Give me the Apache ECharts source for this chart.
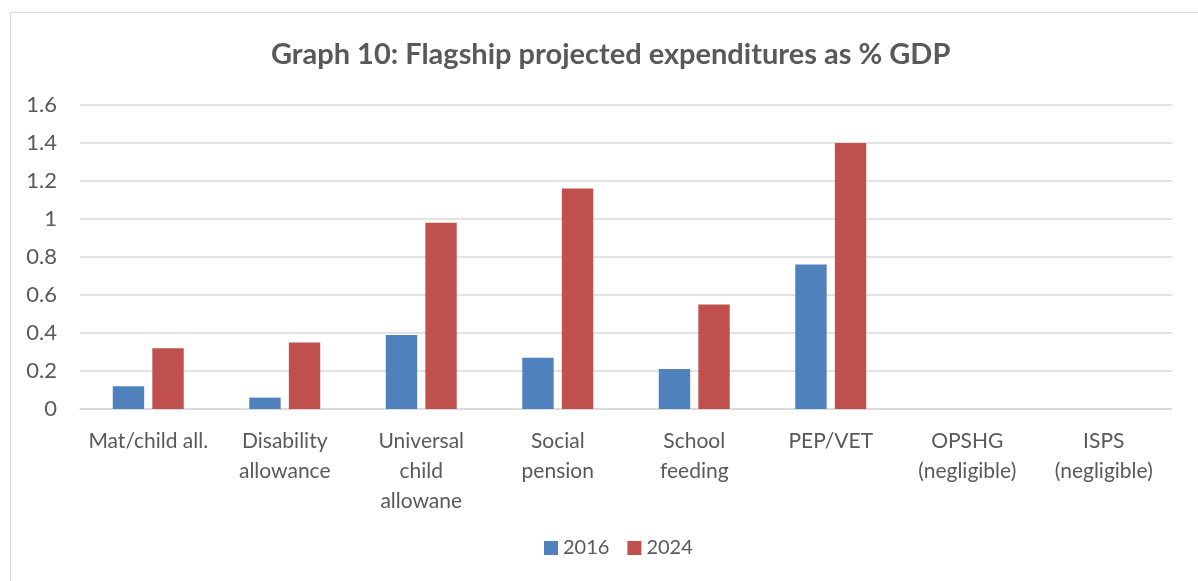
<!DOCTYPE html>
<html>
<head>
<meta charset="utf-8">
<script src="https://cdn.jsdelivr.net/npm/echarts@6/dist/echarts.min.js"></script>
<style>
	html, body { margin: 0; padding: 0; background: #fff; }
	#frame { position: absolute; left: 10px; top: 12px; width: 1200px; height: 600px; border: 1px solid #D9D9D9; box-sizing: border-box; }
	#main { position: absolute; left: 0; top: 0; width: 1198px; height: 581px; }
</style>
</head>
<body>
<div id="frame"></div>
<div id="main"></div>
<script>
	// 数据
	var categories = ['Mat/child all.', 'Disability\nallowance', 'Universal\nchild\nallowane', 'Social\npension',
		'School\nfeeding', 'PEP/VET', 'OPSHG\n(negligible)', 'ISPS\n(negligible)'];
	var values2016 = [0.12, 0.06, 0.39, 0.27, 0.21, 0.76, 0, 0];
	var values2024 = [0.32, 0.35, 0.98, 1.16, 0.55, 1.40, 0, 0];
	var seriesNames = ['2016', '2024'];

	var font = 'Lato, "Open Sans", sans-serif';
	var myChart = echarts.init(document.getElementById('main'));
	myChart.setOption({
		animation: false,
		title: {
			text: 'Graph 10: Flagship projected expenditures as % GDP',
			left: 266,
			top: 35,
			textStyle: { fontFamily: font, fontSize: 29, fontWeight: 'bold', color: '#595959' }
		},
		legend: {
			data: seriesNames,
			bottom: 18,
			left: 539,
			itemWidth: 14,
			itemHeight: 14,
			itemGap: 18,
			icon: 'rect',
			textStyle: { fontFamily: font, fontSize: 20, color: '#595959' }
		},
		grid: { left: 80, right: 26, top: 105, bottom: 172 },
		xAxis: {
			type: 'category',
			data: categories,
			axisLine: { lineStyle: { color: '#D9D9D9', width: 1.5 } },
			axisTick: { show: false },
			axisLabel: { fontFamily: font, fontSize: 21, color: '#595959', lineHeight: 30, margin: 17, interval: 0 }
		},
		yAxis: {
			type: 'value',
			min: 0,
			max: 1.6,
			interval: 0.2,
			axisLine: { show: false },
			axisTick: { show: false },
			splitLine: { lineStyle: { color: '#D9D9D9', width: 1.5 } },
			axisLabel: {
				fontFamily: font, fontSize: 22, color: '#595959', margin: 23,
				formatter: function (v) { return String(Math.round(v * 10) / 10); }
			}
		},
		series: [{
			name: seriesNames[0],
			type: 'bar',
			data: values2016,
			barWidth: '23%',
			barGap: '26%',
			itemStyle: { color: '#4F81BD' }
		}, {
			name: seriesNames[1],
			type: 'bar',
			data: values2024,
			barWidth: '23%',
			itemStyle: { color: '#C0504D' }
		}]
	});
</script>
</body>
</html>
